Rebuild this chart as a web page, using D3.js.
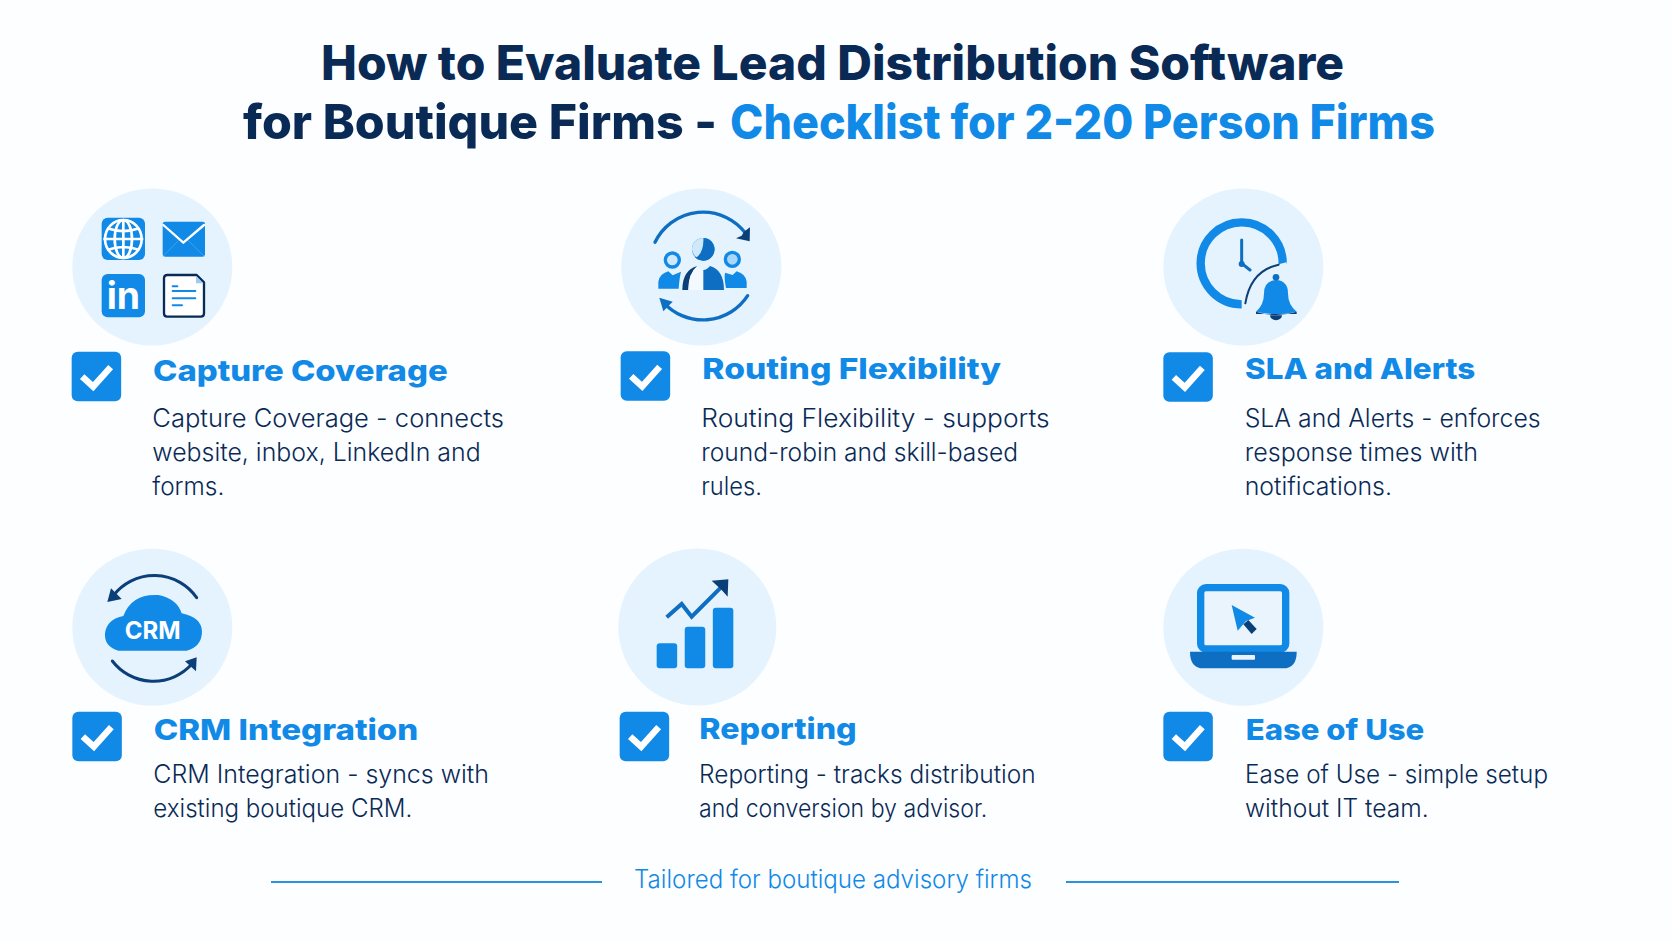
<!DOCTYPE html>
<html><head><meta charset="utf-8">
<script src="https://cdnjs.cloudflare.com/ajax/libs/d3/7.9.0/d3.min.js"></script>
<style>html,body{margin:0;padding:0;background:#fdfeff;overflow:hidden}svg{display:block}text{font-family:Inter,"Noto Sans",sans-serif}</style>
</head><body><svg id="c" width="1672" height="941"></svg>
<script>
// ---------- content ----------
const titleLine1 = "How to Evaluate Lead Distribution Software";
const titleLine2a = "for Boutique Firms -";
const titleLine2b = "Checklist for 2-20 Person Firms";
const categories = ["Capture Coverage","Routing Flexibility","SLA and Alerts","CRM Integration","Reporting","Ease of Use"];
const descriptions = [
  ["Capture Coverage - connects","website, inbox, LinkedIn and","forms."],
  ["Routing Flexibility - supports","round-robin and skill-based","rules."],
  ["SLA and Alerts - enforces","response times with","notifications."],
  ["CRM Integration - syncs with","existing boutique CRM."],
  ["Reporting - tracks distribution","and conversion by advisor."],
  ["Ease of Use - simple setup","without IT team."]
];
const footnote = "Tailored for boutique advisory firms";
const reportingBars = [75,125,182];
const reportingTrend = [[0,0],[45,40],[75,2],[175,102]];

// ---------- layout (crop-pixel units are 1/3 px, relative to each card's origin) ----------
const NAVY="#0a2a56", BLUE="#1189e6", MID="#0e6fc2", PALE="#e4f3fd", DARK="#0b3f78";
const cardOriginX=[50,600,1140,50,600,1140], cardOriginY=[170,170,170,530,530,530];
const circleX=[307,304,310,307,292,310], circleY=[291,291,291,292,291,292], circleRx=[80,80,80,80,79,80];
const checkX=[65,62,70,67,59,70], checkY=[545,544,547,545,545,545];
const headX=[309,307,315,311,298,317], headY=[632,628,628,630,628,630], headW=[884,896,691,794,472,536];
const bodyX=[307,304,314,310,297,315];
const bodyY=[[770,872,975],[770,872,975],[770,872,975],[760,860],[760,860],[758,860]];
const bodyW=[[1055,985,216],[1045,950,182],[888,700,442],[1007,777],[1010,865],[909,551]];

const svg=d3.select("#c");
const idx=d3.scaleOrdinal(categories,d3.range(categories.length));

// ---------- icons ----------
function p(g,d,fill,stroke,sw){
  const e=g.append("path").attr("d",d).attr("fill",fill||"none");
  if(stroke) e.attr("stroke",stroke).attr("stroke-width",sw).attr("stroke-linecap","round").attr("stroke-linejoin","round");
  return e;
}
function iconCapture(g){
  g.append("rect").attr("x",155).attr("y",143).attr("width",130).attr("height",127).attr("rx",18).attr("fill",BLUE);
  const gl=g.append("g").attr("fill","none").attr("stroke","#fff").attr("stroke-width",8);
  gl.append("ellipse").attr("cx",220).attr("cy",207).attr("rx",55).attr("ry",57);
  gl.append("ellipse").attr("cx",220).attr("cy",207).attr("rx",26).attr("ry",57);
  gl.append("path").attr("d","M220,150V264M160,207H280M172,175Q220,192 268,175M172,240Q220,222 268,240");
  g.append("rect").attr("x",338).attr("y",155).attr("width",127).attr("height",105).attr("rx",7).attr("fill",BLUE);
  p(g,"M340,165 L400,218 L462,165","none","#fff",7);
  p(g,"M340,258 L385,212 M462,258 L415,212","none","#3da2ee",3);
  g.append("rect").attr("x",155).attr("y",312).attr("width",130).attr("height",130).attr("rx",18).attr("fill",BLUE);
  g.append("text").attr("x",220).attr("y",416).attr("text-anchor","middle").attr("font-size",112).attr("font-weight",700)
    .attr("fill","#fff").text("in");
  p(g,"M352,315 H440 L462,337 V430 Q462,440 452,440 H352 Q342,440 342,430 V325 Q342,315 352,315Z","#fff",NAVY,7);
  p(g,"M438,317 V340 H460Z","#9cccf2");
  p(g,"M368,349H382M368,363H436M368,385H436M368,406H396","none",BLUE,6);
}
function iconRouting(g){
  p(g,"M165,217 A160,160 0 0 1 437,190","none",MID,10);
  p(g,"M450,172 L449,214 L408,205 L425,197 L432,185Z",DARK);
  p(g,"M443,377 A160,160 0 0 1 190,397","none",MID,10);
  p(g,"M178,383 L190,424 L218,395 Z",MID);
  g.append("circle").attr("cx",217).attr("cy",270).attr("r",21).attr("fill","#cfe8fb").attr("stroke",BLUE).attr("stroke-width",10);
  g.append("circle").attr("cx",397).attr("cy",268).attr("r",21).attr("fill","#a9d7f8").attr("stroke",BLUE).attr("stroke-width",10);
  p(g,"M175,356 V335 Q178,312 205,304 L218,316 L243,305 Q238,325 236,356Z",BLUE);
  p(g,"M440,354 V335 Q437,312 410,304 L398,315 L375,308 Q372,325 378,354Z",BLUE);
  g.append("circle").attr("cx",310).attr("cy",238).attr("r",34).attr("fill",BLUE);
  p(g,"M310,204 A34,34 0 0 1 335,260 A34,34 0 0 1 285,262 Q310,250 310,204Z",MID);
  p(g,"M310,204 A34,34 0 0 0 276,238 Q278,255 290,262 Q312,245 310,204Z","#cfe8fb");
  p(g,"M247,360 Q247,300 292,288 Q265,310 265,360Z",DARK);
  p(g,"M265,360 Q265,310 292,288 Q302,300 310,300 V360Z","#f3f9fe");
  p(g,"M310,360 V300 Q320,300 330,288 Q372,300 372,360Z",MID);
}
function iconSLA(g){
  p(g,"M428,282 A123,123 0 1 0 305,403","none",BLUE,25).attr("stroke-linecap","butt");
  p(g,"M316,402 Q330,302 440,280","none",PALE,7).attr("stroke-linecap","butt");
  p(g,"M316,400 Q332,302 416,284","none",DARK,6);
  p(g,"M305,210 V280 L330,300","none",MID,9);
  g.append("circle").attr("cx",305).attr("cy",282).attr("r",9).attr("fill",MID);
  p(g,"M348,425 Q372,405 372,370 Q372,332 408,330 Q444,332 444,370 Q444,405 470,425 Q408,440 348,425Z",BLUE);
  p(g,"M348,425 Q408,445 470,425 L470,432 H348Z",DARK);
  g.append("circle").attr("cx",408).attr("cy",322).attr("r",10).attr("fill",MID);
  p(g,"M390,436 A18,15 0 0 0 426,436Z",DARK);
}
function iconCRM(g){
  p(g,"M440,203 A155,155 0 0 0 190,197","none",DARK,9);
  p(g,"M172,216 L183,175 L215,207 Z",DARK);
  p(g,"M187,393 A155,155 0 0 0 425,403","none",DARK,9);
  p(g,"M440,382 L438,424 L405,394 Z",DARK);
  p(g,"M205,362 Q162,350 165,310 Q170,268 220,258 Q245,190 325,195 Q380,205 395,250 Q455,262 456,305 Q455,350 410,362Z",BLUE);
  g.append("text").attr("x",308).attr("y",327).attr("text-anchor","middle").attr("font-size",72).attr("font-weight",700)
    .attr("fill","#fff").text("CRM");
}
function iconReporting(g){
  const x=d3.scaleBand().domain(d3.range(reportingBars.length)).range([170,400]).paddingInner(0.27).paddingOuter(0);
  const y=d3.scaleLinear().domain([0,182]).range([415,233]);
  g.selectAll("rect.bar").data(reportingBars).join("rect").attr("class","bar").attr("x",(_,i)=>x(i)).attr("width",x.bandwidth())
    .attr("y",v=>y(v)).attr("height",v=>415-y(v)).attr("rx",9).attr("fill",BLUE);
  const tx=d3.scaleLinear().domain([0,175]).range([200,375]);
  const ty=d3.scaleLinear().domain([0,102]).range([262,160]);
  const ln=d3.line().x(d=>tx(d[0])).y(d=>ty(d[1]));
  p(g,ln(reportingTrend),"none",MID,12).attr("stroke-linecap","butt").attr("stroke-linejoin","miter");
  p(g,"M335,152 L385,148 L383,200 L365,180 Z",DARK);
}
function iconEase(g){
  g.append("rect").attr("x",182).attr("y",173).attr("width",255).attr("height",184).attr("rx",16).attr("fill","#e9f4fd").attr("stroke",BLUE).attr("stroke-width",22);
  p(g,"M150,365 H470 Q470,415 430,415 H190 Q150,415 150,365Z",MID);
  g.append("rect").attr("x",275).attr("y",375).attr("width",70).attr("height",14).attr("rx",3).attr("fill","#e9f4fd");
  p(g,"M275,225 L345,263 L318,273 L293,302Z",BLUE);
  p(g,"M310,283 L325,270 L350,297 L335,312Z",DARK);
}
const icons=[iconCapture,iconRouting,iconSLA,iconCRM,iconReporting,iconEase];

function titleText(x,y,w,t,fill){
  svg.append("text").attr("x",x).attr("y",y).attr("textLength",w).attr("lengthAdjust","spacingAndGlyphs")
    .attr("font-size",48).attr("font-weight",800).attr("fill",fill).text(t);
}
titleText(321,80,1023,titleLine1,NAVY);
titleText(243,138.5,474,titleLine2a,NAVY);
titleText(730,138.5,705,titleLine2b,BLUE);

const cards=svg.selectAll("g.card").data(categories).join("g").attr("class","card")
  .attr("transform",d=>`translate(${cardOriginX[idx(d)]},${cardOriginY[idx(d)]})`);

cards.each(function(d){
  const i=idx(d), g=d3.select(this);
  g.append("ellipse").attr("cx",circleX[i]/3).attr("cy",circleY[i]/3).attr("rx",circleRx[i]).attr("ry",78.5).attr("fill",PALE);
  const ic=g.append("g").attr("transform","scale(0.33333)");
  icons[i](ic);
  const b=g.append("g").attr("transform",`translate(${checkX[i]/3},${checkY[i]/3})`);
  b.append("rect").attr("width",49.5).attr("height",49.5).attr("rx",6).attr("fill",BLUE);
  b.append("path").attr("d",d3.line()([[10.5,25],[21.5,35],[39,15.5]])).attr("fill","none")
    .attr("stroke","#fff").attr("stroke-width",6.5).attr("stroke-linejoin","miter");
  g.append("text").attr("x",headX[i]/3).attr("y",headY[i]/3).attr("font-size",29).attr("font-weight",800)
    .attr("fill",BLUE).attr("textLength",headW[i]/3).attr("lengthAdjust","spacingAndGlyphs").text(d);
  g.selectAll("text.body").data(descriptions[i]).join("text").attr("class","body")
    .attr("x",bodyX[i]/3).attr("y",(_,k)=>bodyY[i][k]/3).attr("font-size",25).attr("font-weight",350)
    .attr("fill",NAVY).attr("textLength",(_,k)=>bodyW[i][k]/3).attr("lengthAdjust","spacingAndGlyphs").text(t=>t);
});

[[271,602],[1066,1399]].forEach(([a,b])=>svg.append("line").attr("x1",a).attr("x2",b).attr("y1",882).attr("y2",882)
  .attr("stroke","#2b93dd").attr("stroke-width",1.8));
svg.append("text").attr("x",634).attr("y",888).attr("font-size",25).attr("font-weight",350).attr("fill",BLUE)
  .attr("textLength",398).attr("lengthAdjust","spacingAndGlyphs").text(footnote);
</script>
</body></html>
